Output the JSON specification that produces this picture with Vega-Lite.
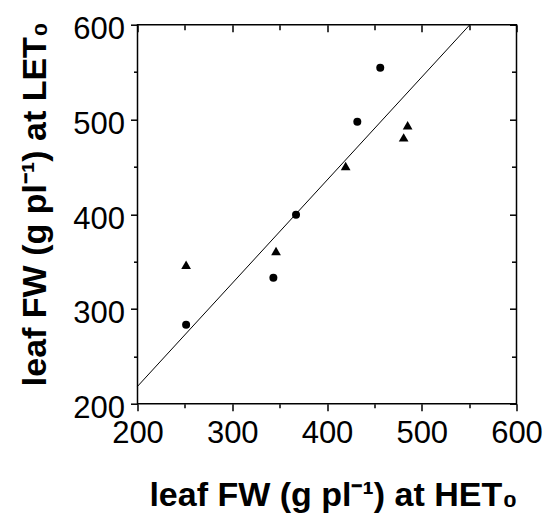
{
  "$schema": "https://vega.github.io/schema/vega-lite/v6.json",
  "width": 379,
  "height": 379,
  "autosize": {"type": "none"},
  "padding": {"left": 137.5, "top": 24.7, "right": 30.5, "bottom": 109.3},
  "background": "white",
  "config": {
    "view": {"stroke": "black", "strokeWidth": 1.5},
    "axis": {
      "grid": false,
      "domain": false,
      "ticks": true,
      "tickColor": "black",
      "tickOpacity": 1,
      "tickWidth": 1.5,
      "zindex": 1,
      "labelFont": "Liberation Sans",
      "labelFontSize": 31,
      "labelColor": "black",
      "titleFont": "Liberation Sans",
      "titleFontSize": 34,
      "titleFontWeight": "bold",
      "titleColor": "black"
    }
  },
  "datasets": {
    "circles": [
      {"het": 251.3, "let": 283.4},
      {"het": 343.4, "let": 333.0},
      {"het": 367.3, "let": 399.5},
      {"het": 432.0, "let": 497.6},
      {"het": 456.2, "let": 554.6}
    ],
    "triangles": [
      {"het": 251.3, "let": 346.7},
      {"het": 346.2, "let": 361.1},
      {"het": 419.7, "let": 450.8},
      {"het": 480.9, "let": 481.1},
      {"het": 485.1, "let": 493.8}
    ],
    "fit": [
      {"het": 200, "let": 218.3},
      {"het": 550.8, "let": 600}
    ]
  },
  "resolve": {"axis": {"x": "independent", "y": "independent"}},
  "layer": [
    {
      "data": {"name": "circles"},
      "mark": {"type": "point", "shape": "circle", "filled": true, "color": "black", "opacity": 1, "size": 64},
      "encoding": {
        "x": {
          "field": "het", "type": "quantitative",
          "scale": {"domain": [200, 600], "nice": false, "zero": false},
          "axis": {
            "orient": "bottom", "values": [200, 300, 400, 500, 600], "tickSize": 7,
            "labelPadding": 8, "title": "leaf FW (g pl⁻¹) at HET₀",
            "titleX": 195.5, "titleY": 101.7, "titleBaseline": "alphabetic", "titleAlign": "center",
            "labelFlush": false, "labelOverlap": false
          }
        },
        "y": {
          "field": "let", "type": "quantitative",
          "scale": {"domain": [200, 600], "nice": false, "zero": false},
          "axis": {
            "orient": "left", "values": [200, 300, 400, 500, 600], "tickSize": 7,
            "labelPadding": 6, "labelOffset": 5, "title": "leaf FW (g pl⁻¹) at LET₀",
            "titleX": -92.5, "titleY": 178.8, "titleAngle": 270, "titleBaseline": "alphabetic", "titleAlign": "center",
            "labelFlush": false, "labelOverlap": false
          }
        }
      }
    },
    {
      "data": {"name": "triangles"},
      "mark": {"type": "point", "shape": "triangle-up", "filled": true, "color": "black", "opacity": 1, "size": 95},
      "encoding": {
        "x": {
          "field": "het", "type": "quantitative",
          "axis": {"orient": "bottom", "values": [250, 350, 450, 550], "tickSize": 4, "labels": false, "title": null}
        },
        "y": {
          "field": "let", "type": "quantitative",
          "axis": {"orient": "left", "values": [250, 350, 450, 550], "tickSize": 4, "labels": false, "title": null}
        }
      }
    },
    {
      "data": {"name": "fit"},
      "mark": {"type": "line", "color": "black", "strokeWidth": 1},
      "encoding": {
        "x": {
          "field": "het", "type": "quantitative",
          "axis": {"orient": "top", "values": [200, 300, 400, 500, 600], "tickSize": -7, "labels": false, "title": null}
        },
        "y": {
          "field": "let", "type": "quantitative",
          "axis": {"orient": "right", "values": [200, 300, 400, 500, 600], "tickSize": -7, "labels": false, "title": null}
        }
      }
    },
    {
      "data": {"name": "fit"},
      "mark": {"type": "line", "color": "black", "strokeWidth": 1, "strokeOpacity": 0},
      "encoding": {
        "x": {
          "field": "het", "type": "quantitative",
          "axis": {"orient": "top", "values": [250, 350, 450, 550], "tickSize": -5, "labels": false, "title": null}
        },
        "y": {
          "field": "let", "type": "quantitative",
          "axis": {"orient": "right", "values": [250, 350, 450, 550], "tickSize": -5, "labels": false, "title": null}
        }
      }
    }
  ]
}
